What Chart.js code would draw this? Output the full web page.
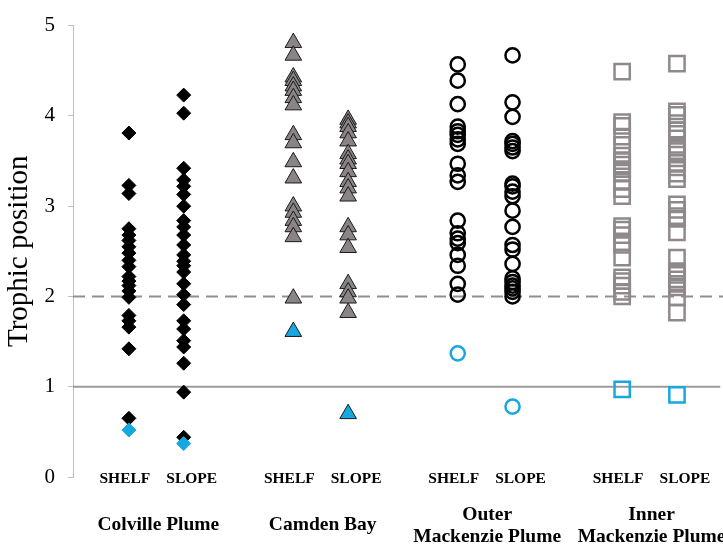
<!DOCTYPE html>
<html>
<head>
<meta charset="utf-8">
<script src="https://cdn.jsdelivr.net/npm/chart.js@4/dist/chart.umd.min.js"></script>
<style>
  html, body { margin: 0; padding: 0; background: #fff; }
  canvas { display: block; }
</style>
</head>
<body>
<canvas id="chart" width="723" height="545"></canvas>
<script>
// Regions along the Beaufort coast, each sampled on the shelf and the slope
const regions = [['Colville Plume'], ['Camden Bay'], ['Outer', 'Mackenzie Plume'], ['Inner', 'Mackenzie Plume']];
const zones = ['SHELF', 'SLOPE'];
const yTicks = [0, 1, 2, 3, 4, 5];
const yTitle = 'Trophic position';

// Reference trophic levels: primary consumers (1) and secondary consumers (2)
const baseLevel = 1;
const consumerLevel = 2;

// Trophic positions per taxon
const colvilleShelf = [3.81, 3.23, 3.14, 2.75, 2.68, 2.62, 2.55, 2.48, 2.40, 2.33, 2.22, 2.17, 2.12, 2.06, 1.99, 1.79, 1.73, 1.66, 1.42, 0.65];
const colvilleSlope = [4.23, 4.03, 3.42, 3.29, 3.22, 3.13, 3.00, 2.84, 2.77, 2.68, 2.57, 2.46, 2.39, 2.34, 2.27, 2.14, 2.02, 1.91, 1.73, 1.64, 1.51, 1.44, 1.26, 0.94, 0.44];
const camdenShelf = [4.81, 4.67, 4.43, 4.39, 4.33, 4.28, 4.20, 4.12, 3.79, 3.70, 3.49, 3.31, 3.00, 2.93, 2.84, 2.77, 2.66, 1.98];
const camdenSlope = [3.96, 3.92, 3.88, 3.81, 3.72, 3.58, 3.52, 3.47, 3.38, 3.27, 3.20, 3.11, 2.77, 2.68, 2.54, 2.14, 2.05, 1.98, 1.82];
const outerShelf = [4.57, 4.39, 4.13, 3.88, 3.83, 3.79, 3.74, 3.69, 3.47, 3.34, 3.27, 2.84, 2.70, 2.64, 2.59, 2.46, 2.34, 2.14, 2.02];
const outerSlope = [4.67, 4.15, 3.99, 3.72, 3.69, 3.65, 3.61, 3.25, 3.22, 3.16, 3.11, 2.95, 2.77, 2.57, 2.52, 2.36, 2.20, 2.16, 2.12, 2.09, 2.05, 2.00];
const innerShelf = [4.49, 3.93, 3.89, 3.77, 3.68, 3.56, 3.50, 3.46, 3.41, 3.37, 3.27, 3.19, 3.11, 2.78, 2.74, 2.68, 2.60, 2.57, 2.43, 2.21, 2.17, 2.12, 2.05, 2.00];
const innerSlope = [4.58, 4.05, 4.01, 3.92, 3.84, 3.80, 3.68, 3.65, 3.61, 3.57, 3.48, 3.43, 3.36, 3.30, 3.02, 2.96, 2.89, 2.86, 2.71, 2.43, 2.28, 2.24, 2.19, 2.14, 2.10, 1.99, 1.82];

// Baseline (particulate organic matter) samples, one per shelf / slope column
const baselineShelf = [0.52, 1.61, 1.37, 0.97];
const baselineSlope = [0.37, 0.70, 0.78, 0.91];

// Column position on the x scale: two columns per region, one empty slot between regions
const columnX = (region, zone) => region * 3 + zone;
const X_MIN = -1.02, X_MAX = 10.84;

const toPoints = (values, region, zone) => values.map(v => ({ x: columnX(region, zone), y: v }));

const BLUE = '#17a8e0';
const markerStyles = [
  { pointStyle: 'rectRot', radius: 7, fill: '#000000', border: '#000000', borderWidth: 1 },
  { pointStyle: 'triangle', radius: 9.6, fill: '#8a8486', border: '#1a1a1a', borderWidth: 1 },
  { pointStyle: 'circle', radius: 7.1, fill: 'rgba(0,0,0,0)', border: '#000000', borderWidth: 2.5 },
  { pointStyle: 'rect', radius: 10.8, fill: 'rgba(0,0,0,0)', border: '#8f898b', borderWidth: 2.5 }
];
const blueStyles = [
  { fill: BLUE, border: BLUE },
  { fill: BLUE, border: '#1a1a1a' },
  { fill: 'rgba(0,0,0,0)', border: BLUE },
  { fill: 'rgba(0,0,0,0)', border: BLUE }
];

const regionValues = [
  [colvilleShelf, colvilleSlope],
  [camdenShelf, camdenSlope],
  [outerShelf, outerSlope],
  [innerShelf, innerSlope]
];

const datasets = [];

regionValues.forEach((pair, r) => {
  const s = markerStyles[r];
  datasets.push({
    label: regions[r].join(' '),
    data: toPoints(pair[0], r, 0).concat(toPoints(pair[1], r, 1)),
    pointStyle: s.pointStyle,
    pointRadius: s.radius,
    pointBackgroundColor: s.fill,
    pointBorderColor: s.border,
    pointBorderWidth: s.borderWidth,
    showLine: false,
    clip: false,
    order: 1
  });
  const b = blueStyles[r];
  datasets.push({
    label: regions[r].join(' ') + ' baseline',
    data: toPoints([baselineShelf[r]], r, 0).concat(toPoints([baselineSlope[r]], r, 1)),
    pointStyle: s.pointStyle,
    pointRadius: s.radius,
    pointBackgroundColor: b.fill,
    pointBorderColor: b.border,
    pointBorderWidth: s.borderWidth,
    showLine: false,
    clip: false,
    order: 0
  });
});

// Horizontal reference levels
datasets.push({
  label: 'Level 1',
  data: [{ x: X_MIN, y: baseLevel }, { x: X_MAX - 0.05, y: baseLevel }],
  showLine: true,
  borderColor: '#9b9b9b',
  borderWidth: 2,
  pointRadius: 0,
  order: 2
});
datasets.push({
  label: 'Level 2',
  data: [{ x: X_MIN, y: consumerLevel }, { x: X_MAX, y: consumerLevel }],
  showLine: true,
  borderColor: '#8f8f8f',
  borderWidth: 2,
  borderDash: [12, 7],
  pointRadius: 0,
  order: 2
});

// Column captions and region names under the plot
const captionPlugin = {
  id: 'captions',
  afterDraw(chart) {
    const { ctx, chartArea } = chart;
    const xs = chart.scales.x;
    const base = chartArea.bottom;
    ctx.save();
    ctx.fillStyle = '#000';
    ctx.textBaseline = 'alphabetic';
    regions.forEach((name, r) => {
      const mid = (xs.getPixelForValue(columnX(r, 0)) + xs.getPixelForValue(columnX(r, 1))) / 2 + 2;
      ctx.font = 'bold 15.5px "Liberation Serif", "Times New Roman", serif';
      ctx.textAlign = 'right';
      ctx.fillText(zones[0], mid - 8, base + 5.8);
      ctx.textAlign = 'left';
      ctx.fillText(zones[1], mid + 8, base + 5.8);
      ctx.font = 'bold 19.5px "Liberation Serif", "Times New Roman", serif';
      ctx.textAlign = 'center';
      if (name.length === 1) {
        ctx.fillText(name[0], mid, base + 52.5);
      } else {
        ctx.fillText(name[0], mid, base + 42.5);
        ctx.fillText(name[1], mid, base + 64.8);
      }
    });
    ctx.restore();
  }
};

new Chart(document.getElementById('chart'), {
  type: 'scatter',
  data: { datasets },
  options: {
    responsive: false,
    animation: false,
    events: [],
    layout: { autoPadding: false, padding: { top: 13, bottom: 68, left: 0, right: 0 } },
    plugins: { legend: { display: false }, tooltip: { enabled: false } },
    scales: {
      x: { type: 'linear', min: X_MIN, max: X_MAX, display: false },
      y: {
        min: yTicks[0],
        max: yTicks[yTicks.length - 1],
        afterBuildTicks(scale) { scale.ticks = yTicks.map(v => ({ value: v })); },
        ticks: {
          color: '#000',
          padding: 13,
          font: { family: '"Liberation Serif", "Times New Roman", serif', size: 21 }
        },
        grid: { drawOnChartArea: false, drawTicks: true, tickLength: 5, color: '#bfbfbf', lineWidth: 1 },
        border: { display: true, color: '#bfbfbf', width: 1 },
        title: {
          display: true,
          text: yTitle,
          color: '#000',
          font: { family: '"Liberation Serif", "Times New Roman", serif', size: 29 },
          padding: { top: 2, bottom: 0 }
        },
        afterFit(scale) { scale.width = 73; }
      }
    }
  },
  plugins: [captionPlugin]
});
</script>
</body>
</html>
